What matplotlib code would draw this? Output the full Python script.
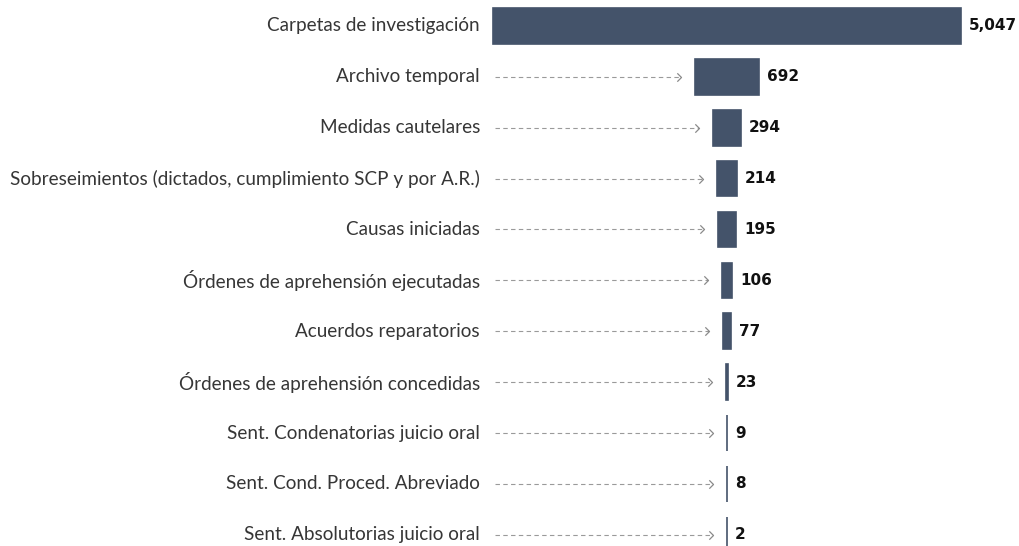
import numpy as np
import matplotlib.pyplot as plt
from matplotlib.path import Path

categories = [
    "Carpetas de investigación",
    "Archivo temporal",
    "Medidas cautelares",
    "Sobreseimientos (dictados, cumplimiento SCP y por A.R.)",
    "Causas iniciadas",
    "Órdenes de aprehensión ejecutadas",
    "Acuerdos reparatorios",
    "Órdenes de aprehensión concedidas",
    "Sent. Condenatorias juicio oral",
    "Sent. Cond. Proced. Abreviado",
    "Sent. Absolutorias juicio oral",
]
values = [5047, 692, 294, 214, 195, 106, 77, 23, 9, 8, 2]

bar_color = "#44536a"
W, H = 1019, 546

fig = plt.figure(figsize=(W / 100, H / 100), dpi=100)
ax = fig.add_axes([0, 0, 1, 1])

# bars are centred on one axis, funnel style
units_per_px = 5047 / 468
center_px = 727
xmin = -center_px * units_per_px
xmax = (W - center_px) * units_per_px
ax.set_xlim(xmin, xmax)
ax.set_ylim(10.22, -0.51)
ax.axis("off")

y = np.arange(len(values))
vals = np.array(values, dtype=float)
ax.barh(y, vals, left=-vals / 2, height=0.7, color=bar_color,
        edgecolor=bar_color, linewidth=1.2)

chevron = Path([(-1, 1), (0, 0), (-1, -1)],
               [Path.MOVETO, Path.LINETO, Path.LINETO])

label_x = 480 / W
arrow_x0 = 495 / W
for i, (cat, v) in enumerate(zip(categories, values)):
    ax.text(label_x, i, cat, transform=ax.get_yaxis_transform(),
            ha="right", va="center", fontsize=13.6, family="Lato",
            color="#363636")
    ax.text(v / 2 + 8 * units_per_px, i, f"{v:,}", ha="left", va="center",
            fontsize=11, fontweight="bold", color="#111111")
    if i == 0:
        continue
    left_frac = (-v / 2 - xmin) / (xmax - xmin)
    end_frac = left_frac - 14 / W
    ax.plot([arrow_x0, end_frac], [i, i], transform=ax.get_yaxis_transform(),
            color="#9a9a9a", lw=0.8, linestyle=(0, (4, 3)))
    ax.plot([end_frac], [i], transform=ax.get_yaxis_transform(),
            marker=chevron, markersize=6, mfc="none", mec="#8a8a8a",
            mew=0.9, linestyle="none")

fig.savefig("out.png", dpi=100)
